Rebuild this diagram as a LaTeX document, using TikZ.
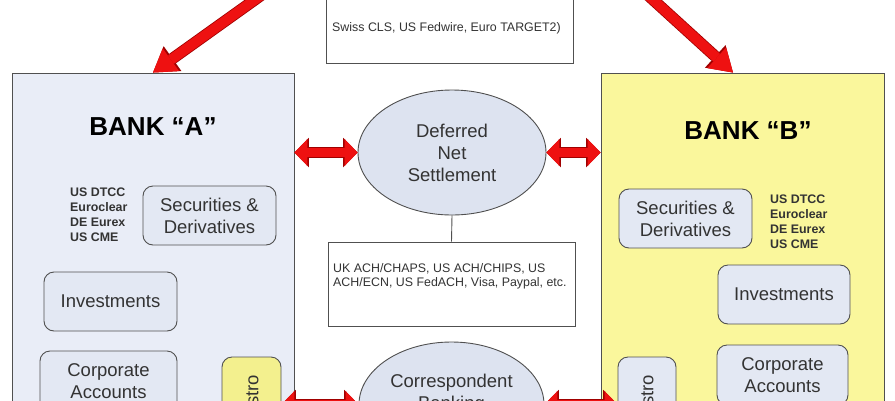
\documentclass[tikz,border=0pt]{standalone}
\usepackage{fontspec}
\setmainfont{Liberation Sans}
\usetikzlibrary{arrows.meta,shapes.geometric,calc}
\definecolor{bankAfill}{HTML}{E9EDF7}
\definecolor{bankBfill}{HTML}{FAF79C}
\definecolor{innerfill}{HTML}{E3E8F3}
\definecolor{ellfill}{HTML}{DDE3F0}
\definecolor{nostroY}{HTML}{F3F08E}
\definecolor{edgegray}{HTML}{505050}
\definecolor{txtgray}{HTML}{333333}
\definecolor{arrowred}{HTML}{EE1111}
\definecolor{arrowdark}{HTML}{A00000}
\begin{document}
\begin{tikzpicture}[x=1pt,y=-1pt,
  bankbox/.style={draw=edgegray, line width=0.9pt, inner sep=0pt},
  rbox/.style={draw=edgegray, fill=innerfill, rounded corners=10pt, line width=0.9pt,
    text=txtgray, font=\fontsize{18.5}{22}\selectfont, align=center, inner sep=0pt},
  ell/.style={ellipse, draw=edgegray, fill=ellfill, line width=0.9pt, inner sep=0pt,
    text=txtgray, font=\fontsize{18.5}{22}\selectfont, align=center},
  plainbox/.style={draw=edgegray, fill=white, line width=0.9pt, inner sep=0pt},
  smalltext/.style={font=\fontsize{12.4}{14}\selectfont, text=txtgray, align=left, inner sep=0pt},
  boldtext/.style={font=\bfseries\fontsize{12.4}{15}\selectfont, text=txtgray, align=left, inner sep=0pt},
  banklabel/.style={font=\bfseries\fontsize{26}{30}\selectfont, text=black, inner sep=0pt},
  dblarrow/.style={arrowred, line width=9pt,
    {Triangle[width=27pt,length=13pt,line width=0pt]}-{Triangle[width=27pt,length=13pt,line width=0pt]},
    preaction={draw=arrowdark, line width=10.6pt,
      arrows={Triangle[width=29.5pt,length=14.5pt,line width=0pt]}-{Triangle[width=29.5pt,length=14.5pt,line width=0pt]}}},
  bigarrow/.style={arrowred, line width=10pt,
    -{Triangle[width=28pt,length=22pt,line width=0pt]},
    preaction={draw=arrowdark, line width=11.6pt,
      arrows=-{Triangle[width=30.5pt,length=24pt,line width=0pt]}}}
]
\useasboundingbox (0,0) rectangle (895,400);
\clip (0,0) rectangle (895,400);
\fill[white] (0,0) rectangle (895,400);

% banks
\node[bankbox, fill=bankAfill, minimum width=282pt, minimum height=360pt] (bankA) at (153,253) {};
\node[bankbox, fill=bankBfill, minimum width=283pt, minimum height=360pt] (bankB) at (742.5,253) {};

% top box
\node[plainbox, minimum width=247pt, minimum height=113pt] (rtgs) at (449.5,6.5) {};
\node[smalltext, anchor=base west] (rtgstext) at (332,31) {Swiss CLS, US Fedwire, Euro TARGET2)};

% bank labels
\node[banklabel, anchor=base] (labA) at (153,135) {BANK “A”};
\node[banklabel, anchor=base] (labB) at (748,139) {BANK “B”};

% bank A contents
\node[boldtext, anchor=north west] (csdA) at (70,188) {US DTCC\\Euroclear\\DE Eurex\\US CME};
\node[rbox, minimum width=133pt, minimum height=59pt] (secA) at (209.5,215.5) {Securities \&\\Derivatives};
\node[rbox, minimum width=133pt, minimum height=59pt] (invA) at (110.5,301.5) {Investments};
\node[rbox, minimum width=137pt, minimum height=60pt] (corpA) at (108.5,381) {Corporate\\Accounts};
\node[rbox, fill=nostroY, minimum width=59pt, minimum height=90pt] (nosA) at (251.5,402) {};
\node[text=txtgray, font=\fontsize{18.5}{22}\selectfont, rotate=90, inner sep=0pt] (nosAt) at (252,402) {Nostro};

% bank B contents
\node[boldtext, anchor=north west] (csdB) at (770,195) {US DTCC\\Euroclear\\DE Eurex\\US CME};
\node[rbox, minimum width=133pt, minimum height=59pt] (secB) at (685.5,218.5) {Securities \&\\Derivatives};
\node[rbox, minimum width=132pt, minimum height=59pt] (invB) at (784,294.5) {Investments};
\node[rbox, minimum width=131pt, minimum height=60pt] (corpB) at (782.5,375) {Corporate\\Accounts};
\node[rbox, minimum width=58pt, minimum height=90pt] (nosB) at (647,402) {};
\node[text=txtgray, font=\fontsize{18.5}{22}\selectfont, rotate=90, inner sep=0pt] (nosBt) at (647,402) {Nostro};

% deferred net settlement
\node[ell, minimum width=188pt, minimum height=125pt] (dns) at (452,152.5) {Deferred\\Net\\Settlement};
\node[plainbox, minimum width=247pt, minimum height=84pt] (achbox) at (451.5,284) {};
\node[smalltext, anchor=north west] (achtext) at (333,263.5) {UK ACH/CHAPS, US ACH/CHIPS, US\\ACH/ECN, US FedACH, Visa, Paypal, etc.};
\draw[edgegray, line width=0.9pt] (dns.south) -- (achbox.north);

% correspondent banking
\node[ell, minimum width=185pt, minimum height=125pt] (corr) at (451.5,404.5) {};
\node[text=txtgray, font=\fontsize{18.5}{22}\selectfont, align=center, inner sep=0pt, anchor=north] (corrt) at (451.5,374) {Correspondent\\Banking};

% double arrows
\draw[dblarrow] (dns.west -| bankA.east) -- (dns.west);
\draw[dblarrow] (dns.east) -- (dns.east -| bankB.west);
\draw[dblarrow] (corr.west -| nosA.east) -- (corr.west);
\draw[dblarrow] (corr.east) -- (corr.east -| nosB.west);

% diagonal arrows from above
\coordinate (srcL) at (316,-44);
\coordinate (srcR) at (605,-44);
\draw[bigarrow] (srcL) -- (bankA.north);
\draw[bigarrow] (srcR) -- ([xshift=-9.5pt]bankB.north);
\end{tikzpicture}
\end{document}
